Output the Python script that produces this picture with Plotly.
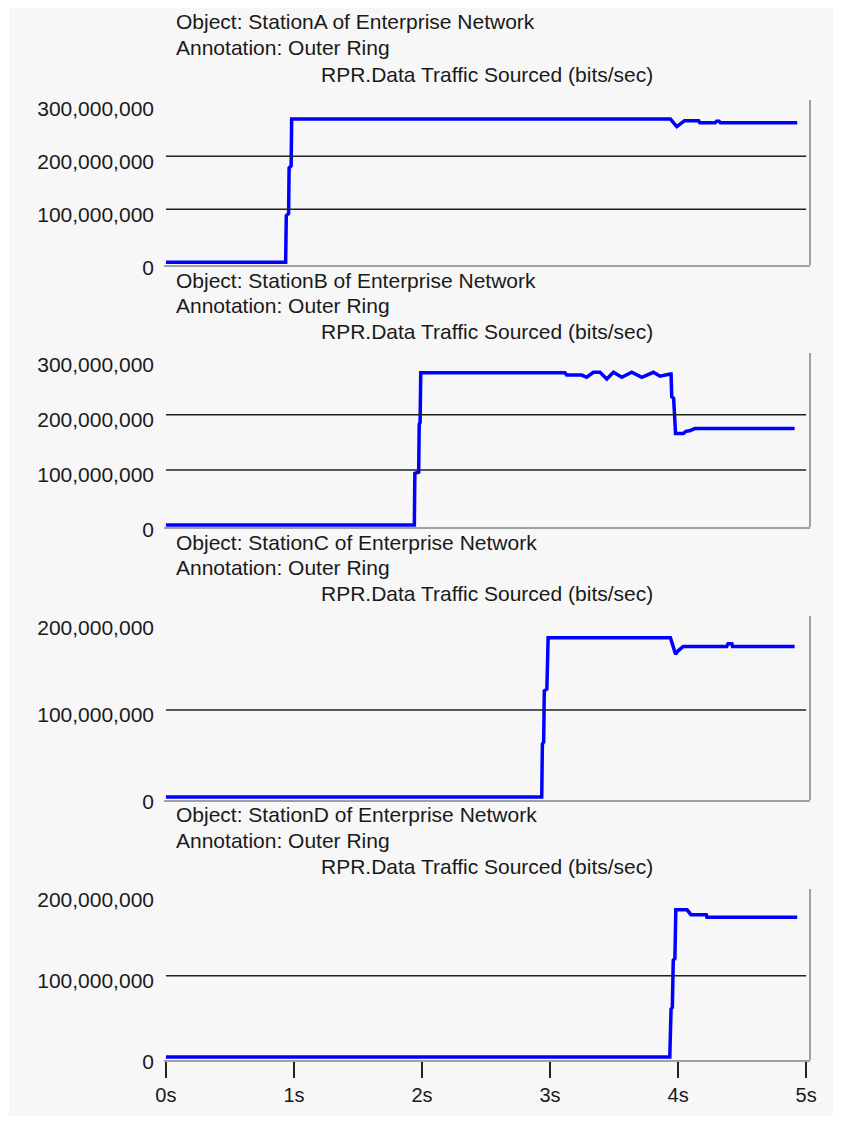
import plotly.graph_objects as go

# ---- data (time in s, traffic in units of 1e6 bits/sec) ----
STATIONS = ["StationA", "StationB", "StationC", "StationD"]

T_A = [0, 0.935, 0.94, 0.958, 0.962, 0.978, 0.982, 3.94, 3.99, 4.05, 4.16, 4.17, 4.29, 4.30, 4.32, 4.33, 4.93]
V_A = [0, 0, 88, 92, 178, 182, 270, 270, 256, 267, 267, 263, 263, 266, 266, 263, 263]

T_B = [0, 1.94, 1.944, 1.974, 1.978, 1.985, 1.99, 3.117, 3.13, 3.247, 3.286, 3.338, 3.39, 3.443, 3.495,
       3.56, 3.638, 3.716, 3.807, 3.859, 3.938, 3.945, 3.95, 3.965, 3.98, 4.04, 4.06, 4.09, 4.13, 4.91]
V_B = [0, 0, 94, 96, 183, 186, 276, 276, 272, 272, 268, 277, 277, 265, 277,
       268, 277, 268, 277, 270, 274, 274, 233, 230, 166, 166, 170, 171, 175, 175]

T_C = [0, 2.935, 2.94, 2.95, 2.955, 2.975, 2.985, 3.94, 3.955, 3.98, 4.0, 4.04, 4.38, 4.39, 4.42, 4.425, 4.91]
V_C = [0, 0, 61, 63, 122, 124, 183, 183, 176, 164, 168, 173, 173, 176, 176, 173, 173]

T_D = [0, 3.935, 3.945, 3.955, 3.962, 3.975, 3.982, 4.07, 4.10, 4.22, 4.225, 4.93]
V_D = [0, 0, 59, 61, 119, 121, 181, 181, 175, 175, 172, 172]

SERIES_T = [T_A, T_B, T_C, T_D]
SERIES_V = [V_A, V_B, V_C, V_D]
SCALE = 1e6

Y_TICKS = [[0, 100e6, 200e6, 300e6], [0, 100e6, 200e6, 300e6], [0, 100e6, 200e6], [0, 100e6, 200e6]]
GRID = [[100e6, 200e6], [100e6, 200e6], [100e6], [100e6]]
X_TICKS = [0, 1, 2, 3, 4, 5]
X_TICK_TEXT = ["0s", "1s", "2s", "3s", "4s", "5s"]

ANNOT_LINE2 = "Annotation: Outer Ring"
ANNOT_LINE3 = "RPR.Data Traffic Sourced (bits/sec)"

# ---- layout geometry (reference pixel coords; page body has an 8px margin) ----
OFF = 8
W, H = 841 - OFF, 1121 - OFF
PLOT_L, PLOT_R, PLOT_T, PLOT_B = 164, 810, 100, 1060
ML = PLOT_L - OFF
MT = PLOT_T - OFF
MR = W - (PLOT_R - OFF)
MB = H - (PLOT_B - OFF)
PW = W - ML - MR
PH = H - MT - MB
PANEL_PX = [(100, 265), (353, 527), (616, 800), (889, 1060)]
Y_RANGES = [(-5e6, 306e6), (-3.5e6, 312e6), (-3.4e6, 208e6), (-3.7e6, 206.6e6)]
TITLE_PX = [(21, 47, 75), (280, 305, 331), (542, 567, 593), (814, 840, 866)]


def py2paper(py):
    return (PLOT_B - py) / PH


def px2paper(px):
    return (px - PLOT_L) / PW


FONT = "Liberation Sans, Arial, sans-serif"
TXT = "#1a1a1a"
BG = "#f7f7f7"
AXC = "#a0a0a0"

fig = go.Figure()
layout = dict(
    width=W, height=H, autosize=False,
    margin=dict(l=ML, r=MR, t=MT, b=MB),
    paper_bgcolor="white", plot_bgcolor=BG,
    showlegend=False,
    font=dict(family=FONT, size=21, color=TXT),
)
shapes = [dict(type="rect", xref="paper", yref="paper",
               x0=px2paper(9), x1=px2paper(834), y0=py2paper(1116), y1=py2paper(5),
               fillcolor=BG, line=dict(width=0), layer="below")]
annotations = []

for i in range(4):
    n = "" if i == 0 else str(i + 1)
    fig.add_trace(go.Scatter(
        x=SERIES_T[i], y=[v * SCALE for v in SERIES_V[i]],
        mode="lines", line=dict(color="#0000ff", width=3.5),
        xaxis="x" + n, yaxis="y" + n, hoverinfo="skip"))
    top, bot = PANEL_PX[i]
    last = (i == 3)
    layout["xaxis" + n] = dict(
        domain=[0, 1], anchor="y" + n, range=[-0.015, 5.03],
        matches=None if i == 0 else "x",
        showgrid=False, zeroline=False,
        showline=True, linecolor=AXC, linewidth=2,
        tickvals=X_TICKS, ticktext=X_TICK_TEXT,
        showticklabels=last,
        ticks="outside" if last else "", ticklen=16, tickwidth=1.5, tickcolor="#222",
        tickfont=dict(family=FONT, size=20, color=TXT),
    )
    layout["yaxis" + n] = dict(
        domain=[py2paper(bot), py2paper(top)], anchor="x" + n,
        range=list(Y_RANGES[i]),
        showgrid=False, zeroline=False, showline=False,
        tickvals=Y_TICKS[i], ticktext=[f"{int(v):,}" for v in Y_TICKS[i]],
        ticks="", ticklabelstandoff=9, ticklabelshift=5,
        tickfont=dict(family=FONT, size=21, color=TXT),
    )
    for g in GRID[i]:
        shapes.append(dict(type="line", xref="x" + n + " domain", x0=0.003, x1=0.994,
                           yref="y" + n, y0=g, y1=g, line=dict(color="#222", width=1.5)))
    shapes.append(dict(type="line", xref="x" + n + " domain", x0=1, x1=1,
                       yref="y" + n + " domain", y0=0, y1=1, line=dict(color=AXC, width=2)))
    l1, l2, l3 = TITLE_PX[i]
    annotations.append(dict(text=f"Object: {STATIONS[i]} of Enterprise Network", xref="paper", yref="paper",
                            x=px2paper(174), y=py2paper(l1), xanchor="left", yanchor="middle",
                            showarrow=False, font=dict(family=FONT, size=21, color=TXT)))
    annotations.append(dict(text=ANNOT_LINE2, xref="paper", yref="paper",
                            x=px2paper(174), y=py2paper(l2), xanchor="left", yanchor="middle",
                            showarrow=False, font=dict(family=FONT, size=21, color=TXT)))
    annotations.append(dict(text=ANNOT_LINE3, xref="paper", yref="paper",
                            x=0.5, y=py2paper(l3), xanchor="center", yanchor="middle",
                            showarrow=False, font=dict(family=FONT, size=21, color=TXT)))

layout["shapes"] = shapes
layout["annotations"] = annotations
fig.update_layout(**layout)
fig.write_html("out.html")
